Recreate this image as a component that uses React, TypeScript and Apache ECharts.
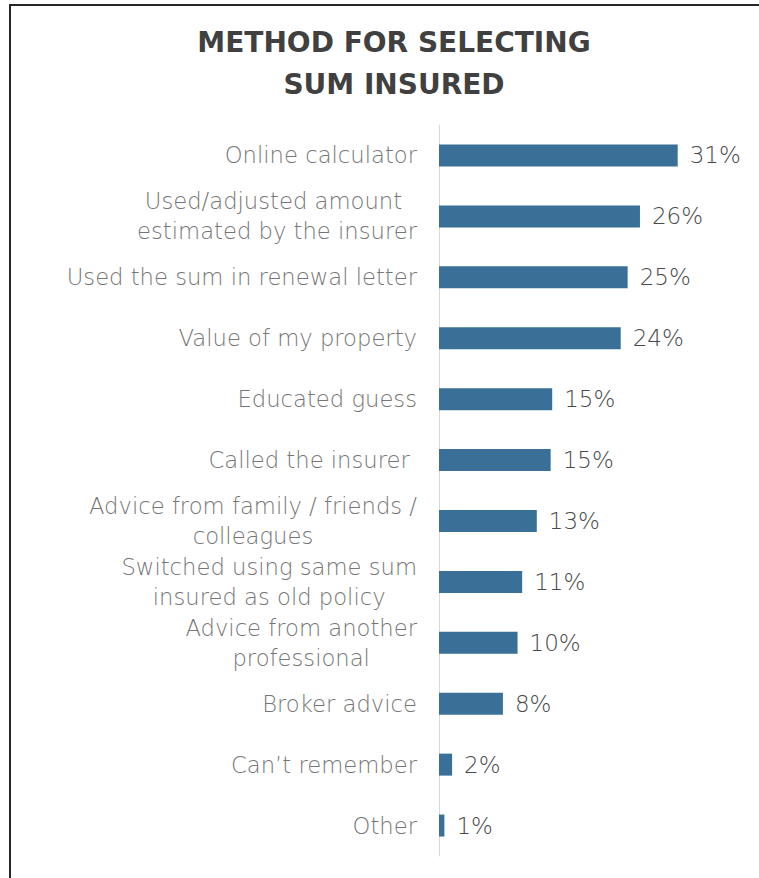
import React, { useEffect, useRef } from "react";
import * as echarts from "echarts";

const TITLE = "METHOD FOR SELECTING\nSUM INSURED";
const categories = [
  "Online calculator",
  "Used/adjusted amount \nestimated by the insurer",
  "Used the sum in renewal letter",
  "Value of my property",
  "Educated guess",
  "Called the insurer ",
  "Advice from family / friends /\ncolleagues",
  "Switched using same sum\ninsured as old policy",
  "Advice from another\nprofessional",
  "Broker advice",
  "Can\u2019t remember",
  "Other",
];
const values = [31, 26.1, 24.5, 23.6, 14.7, 14.5, 12.7, 10.8, 10.2, 8.3, 1.7, 0.7];

const FONT = "'Century Gothic', 'DejaVu Sans', sans-serif";

export default function App() {
  const ref = useRef<HTMLDivElement>(null);
  useEffect(() => {
    if (!ref.current) return;
    const chart = echarts.init(ref.current, undefined, { renderer: "svg" });
    chart.setOption({
      animation: false,
      backgroundColor: "#ffffff",
      title: {
        text: TITLE,
        left: 389,
        top: 16,
        textAlign: "center",
        textStyle: {
          fontFamily: FONT,
          fontSize: 28,
          fontWeight: "bold",
          color: "#404040",
          lineHeight: 42,
        },
      },
      graphic: [
        { type: "line", shape: { x1: 10, y1: 5, x2: 10, y2: 878 }, style: { stroke: "#262626", lineWidth: 2 } },
        { type: "line", shape: { x1: 9, y1: 5, x2: 759, y2: 5 }, style: { stroke: "#262626", lineWidth: 2 } },
      ],
      grid: { left: 439, top: 125, right: 12, bottom: 22, containLabel: false },
      xAxis: {
        type: "value",
        min: 0,
        max: 40,
        show: false,
      },
      yAxis: {
        type: "category",
        inverse: true,
        data: categories,
        axisLine: { show: true, lineStyle: { color: "#d9d9d9", width: 1 } },
        axisTick: { show: false },
        splitLine: { show: false },
        axisLabel: {
          margin: 22,
          align: "right",
          formatter: (v: string) => v.split("\n").map((l) => `{c|${l}}`).join("\n"),
          rich: {
            c: {
              align: "center",
              fontFamily: FONT,
              fontSize: 22.7,
              fontWeight: 200,
              color: "#767676",
              lineHeight: 30,
            },
          },
        },
      },
      series: [
        {
          type: "bar",
          data: values,
          barWidth: 22,
          itemStyle: { color: "#3a7098" },
          label: {
            show: true,
            position: "right",
            distance: 12,
            formatter: (p: any) => `${Math.round(p.value)}%`,
            fontFamily: FONT,
            fontSize: 23,
            fontWeight: 200,
            color: "#4a4a4a",
          },
        },
      ],
    });
    return () => chart.dispose();
  }, []);
  return (
    <div
      ref={ref}
      style={{ position: "fixed", left: 0, top: 0, width: 759, height: 878, background: "#fff" }}
    />
  );
}
